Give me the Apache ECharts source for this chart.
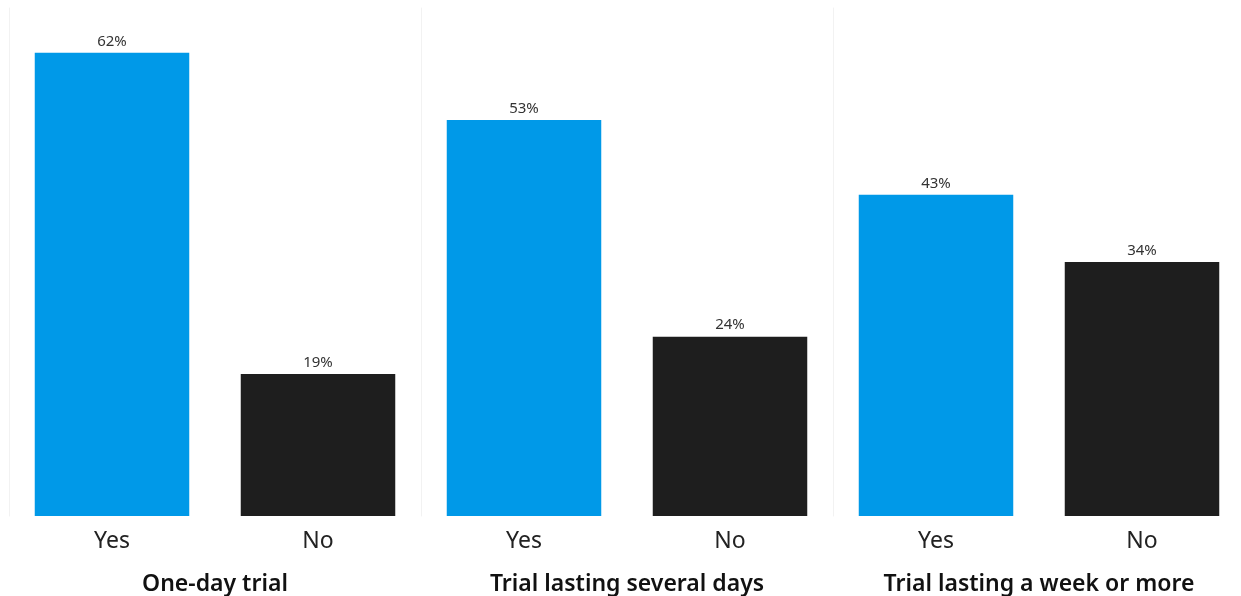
<!DOCTYPE html>
<html>
<head>
<meta charset="utf-8">
<script src="https://cdn.jsdelivr.net/npm/echarts@6/dist/echarts.min.js"></script>
<style>
  html, body { margin: 0; padding: 0; background: #fff; }
  #chart { width: 1241px; height: 596px; }
</style>
</head>
<body>
<div id="chart"></div>
<script>
// answers per trial length
var groups = ['One-day trial', 'Trial lasting several days', 'Trial lasting a week or more'];
var answers = ['Yes', 'No'];
var oneDay = [62, 19];
var severalDays = [53, 24];
var weekOrMore = [43, 34];
var values = [oneDay, severalDays, weekOrMore];
var colors = ['#0099e8', '#1e1e1e'];

var font = '"Noto Sans", "Open Sans", sans-serif';
var panelLeft = [9, 421, 833];

var grids = [], xAxes = [], yAxes = [], series = [];
groups.forEach(function (name, i) {
  grids.push({ left: panelLeft[i], width: 412, top: 8, height: 508, outerBoundsMode: 'none' });
  xAxes.push({
    type: 'category', gridIndex: i, data: answers,
    axisLine: { show: false }, axisTick: { show: false },
    axisLabel: { fontFamily: font, fontSize: 23, color: '#222', margin: 14 },
    name: name, nameLocation: 'middle', nameGap: 57,
    nameTextStyle: { fontFamily: font, fontSize: 23, fontWeight: 600, color: '#111' }
  });
  yAxes.push({
    type: 'value', gridIndex: i, min: 0, max: 68,
    axisLabel: { show: false }, axisTick: { show: false }, splitLine: { show: false },
    axisLine: { show: true, lineStyle: { color: '#f2f2f2', width: 1 } }
  });
  series.push({
    type: 'bar', xAxisIndex: i, yAxisIndex: i, barWidth: '75%',
    data: values[i].map(function (v, j) {
      return { value: v, itemStyle: { color: colors[j] } };
    }),
    label: {
      show: true, position: 'top', distance: 4, formatter: '{c}%',
      fontFamily: font, fontSize: 15, color: '#333'
    }
  });
});

var myChart = echarts.init(document.getElementById('chart'));
myChart.setOption({
  animation: false,
  grid: grids, xAxis: xAxes, yAxis: yAxes, series: series
});
window.addEventListener('resize', function () { myChart.resize(); });
</script>
</body>
</html>
